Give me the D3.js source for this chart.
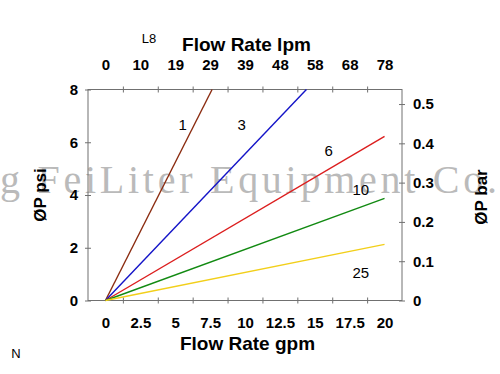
<!DOCTYPE html>
<html>
<head>
<meta charset="utf-8">
<script src="https://cdn.jsdelivr.net/npm/d3@7"></script>
<style>
	body { margin: 0; background: #fff; }
	svg { display: block; }
	text { font-family: 'Liberation Sans', Arial, sans-serif; }
</style>
</head>
<body>
<div id="chart"></div>
<script>
// tick labels
const gpmTicks = [0, 2.5, 5, 7.5, 10, 12.5, 15, 17.5, 20];
const lpmLabels = ['0', '10', '19', '29', '39', '48', '58', '68', '78'];
const psiTicks = [0, 2, 4, 6, 8];
const barTicks = [0, 0.1, 0.2, 0.3, 0.4, 0.5];
// tick marks sit between the labels
const gpmTickMarks = [1.25, 3.75, 6.25, 8.75, 11.25, 13.75, 16.25, 18.75];

// series: every curve starts at the origin
const seriesNames = ['1', '3', '6', '10', '25'];
const seriesColors = ['#8b2c10', '#1414c8', '#dc1e1e', '#128a12', '#f2cf1a'];
const endGpm = [7.64, 14.4, 20, 20, 20];
const endPsi = [8, 8, 6.22, 3.87, 2.13];
const labelGpm = [5.54, 9.76, 16.0, 18.3, 18.3];
const labelPsi = [6.65, 6.65, 5.68, 4.19, 1.04];

let width = 500,
	height = 374;

const svg = d3
	.select('#chart')
	.append('svg')
	.attr('width', width)
	.attr('height', height);

const m = { left: 88, right: 402, top: 89.5, bottom: 300.5 };

var x = d3.scaleLinear().domain([-1.25, 21.25]).range([m.left, m.right]);
var y = d3.scaleLinear().domain([0, 8]).range([m.bottom, m.top]);
var yBar = d3.scaleLinear().domain([0, 0.537]).range([m.bottom, m.top]);

const axisColor = '#707070';

// watermark (under the plot)
svg.append('text')
	.attr('x', 0)
	.attr('y', 193)
	.attr('textLength', 497)
	.attr('lengthAdjust', 'spacing')
	.style('font-family', "'Liberation Serif', 'Times New Roman', serif")
	.style('font-size', '40px')
	.attr('fill', '#bababa')
	.text('g FeiLiter Equipment Co.');

// crossing tick marks (+-3px)
const crossTicks = (g, dir) => {
	g.select('.domain').remove();
	g.selectAll('.tick line').attr('stroke', axisColor);
	if (dir === 'h') g.selectAll('.tick line').attr('y1', -3).attr('y2', 3);
	else g.selectAll('.tick line').attr('x1', -3).attr('x2', 3);
};

// tick marks
svg.append('g')
	.attr('transform', 'translate(0,' + m.bottom + ')')
	.call(d3.axisBottom(x).tickValues(gpmTickMarks).tickFormat(''))
	.call((g) => crossTicks(g, 'h'));
svg.append('g')
	.attr('transform', 'translate(0,' + m.top + ')')
	.call(d3.axisTop(x).tickValues(gpmTickMarks).tickFormat(''))
	.call((g) => crossTicks(g, 'h'));
svg.append('g')
	.attr('transform', 'translate(' + m.left + ',0)')
	.call(d3.axisLeft(y).tickValues(psiTicks).tickFormat(''))
	.call((g) => crossTicks(g, 'v'));
svg.append('g')
	.attr('transform', 'translate(' + m.right + ',0)')
	.call(d3.axisRight(yBar).tickValues(barTicks).tickFormat(''))
	.call((g) => crossTicks(g, 'v'));

// frame
svg.append('rect')
	.attr('x', m.left)
	.attr('y', m.top)
	.attr('width', m.right - m.left)
	.attr('height', m.bottom - m.top)
	.attr('fill', 'none')
	.attr('stroke', axisColor)
	.attr('stroke-width', 1);

// tick labels
const labelStyle = (g) => {
	g.select('.domain').remove();
	g.selectAll('text')
		.attr('fill', '#000')
		.style('font-size', '15px')
		.style('font-weight', 'bold')
		.style('font-family', "'Liberation Sans', Arial, sans-serif");
};

svg.append('g')
	.attr('transform', 'translate(0,' + m.bottom + ')')
	.call(d3.axisBottom(x).tickValues(gpmTicks).tickSize(0).tickPadding(17).tickFormat(d3.format('')))
	.call(labelStyle);
svg.append('g')
	.attr('transform', 'translate(0,' + m.top + ')')
	.call(d3.axisTop(x).tickValues(gpmTicks).tickSize(0).tickPadding(20).tickFormat((d, i) => lpmLabels[i]))
	.call(labelStyle);
svg.append('g')
	.attr('transform', 'translate(' + m.left + ',0)')
	.call(d3.axisLeft(y).tickValues(psiTicks).tickSize(0).tickPadding(10))
	.call(labelStyle);
svg.append('g')
	.attr('transform', 'translate(' + m.right + ',0)')
	.call(d3.axisRight(yBar).tickValues(barTicks).tickSize(0).tickPadding(11).tickFormat((d) => (d === 0 ? '0' : d3.format('.1f')(d))))
	.call(labelStyle);

// lines
const line = d3
	.line()
	.x((d) => x(d[0]))
	.y((d) => y(d[1]));

svg.selectAll('.curve')
	.data(seriesNames)
	.enter()
	.append('path')
	.attr('class', 'curve')
	.attr('d', (d, i) => line([[0, 0], [endGpm[i], endPsi[i]]]))
	.attr('fill', 'none')
	.attr('stroke', (d, i) => seriesColors[i])
	.attr('stroke-width', 1.4);

svg.selectAll('.curve-label')
	.data(seriesNames)
	.enter()
	.append('text')
	.attr('class', 'curve-label')
	.attr('x', (d, i) => x(labelGpm[i]))
	.attr('y', (d, i) => y(labelPsi[i]))
	.attr('dy', '0.35em')
	.attr('text-anchor', 'middle')
	.style('font-size', '15px')
	.text((d) => d);

// titles
svg.append('text')
	.attr('x', 246.5)
	.attr('y', 44)
	.attr('dy', '0.35em')
	.attr('text-anchor', 'middle')
	.style('font-size', '19px')
	.style('font-weight', 'bold')
	.text('Flow Rate lpm');
svg.append('text')
	.attr('x', 247.5)
	.attr('y', 343)
	.attr('dy', '0.35em')
	.attr('text-anchor', 'middle')
	.style('font-size', '19px')
	.style('font-weight', 'bold')
	.text('Flow Rate gpm');
svg.append('text')
	.attr('transform', 'translate(40,195) rotate(-90)')
	.attr('dy', '0.35em')
	.attr('text-anchor', 'middle')
	.style('font-size', '17px')
	.style('font-weight', 'bold')
	.text('ØP psi');
svg.append('text')
	.attr('transform', 'translate(481,197) rotate(-90)')
	.attr('dy', '0.35em')
	.attr('text-anchor', 'middle')
	.style('font-size', '17px')
	.style('font-weight', 'bold')
	.text('ØP bar');

svg.append('text')
	.attr('x', 149)
	.attr('y', 38)
	.attr('dy', '0.35em')
	.attr('text-anchor', 'middle')
	.style('font-size', '13px')
	.text('L8');
svg.append('text')
	.attr('x', 16)
	.attr('y', 353)
	.attr('dy', '0.35em')
	.attr('text-anchor', 'middle')
	.style('font-size', '13px')
	.text('N');
</script>
</body>
</html>
